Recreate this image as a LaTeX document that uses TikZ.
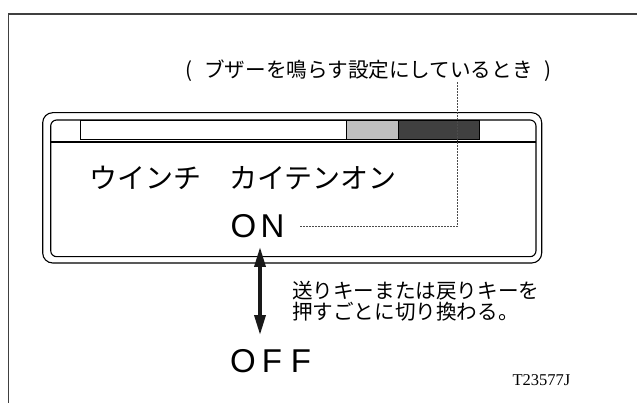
\documentclass[tikz,border=0pt]{standalone}
\usepackage{fontspec}
\setmainfont{Noto Sans CJK JP}
\newfontfamily\codefont{Liberation Serif}
\newfontfamily\latinfont{Liberation Sans}
\usetikzlibrary{arrows.meta}
\newcommand{\pitchbox}[1]{\makebox[29pt][c]{#1}}
\tikzset{
  frameline/.style={draw=black!75, line width=1.5pt},
  boxline/.style={draw=black, line width=1.1pt},
  leader/.style={draw=black!70, line width=0.9pt, dash pattern=on 1.5pt off 1.5pt},
  dblarrow/.style={draw=black!90, line width=3.5pt, {Triangle[length=20pt,width=11pt]}-{Triangle[length=20pt,width=11pt]}},
  lbl/.style={inner sep=0pt, outer sep=0pt},
  barcell/.style={draw=black, line width=0.9pt},
  bigword/.style={lbl, font=\latinfont\fontsize{33}{33}\selectfont, anchor=base west},
}
\begin{document}
\begin{tikzpicture}[x=1pt,y=-1pt]
\useasboundingbox (0,0) rectangle (637,403);
% outer frame
\draw[frameline] (8.3,403) -- (8.3,14) -- (637,14);
% display
\draw[boxline, rounded corners=10pt] (42.7,112.7) rectangle (541.7,263);
\draw[boxline, rounded corners=6pt] (50.7,120) rectangle (536,256.7);
\draw[line width=2pt] (50.7,141.7) -- (536,141.7);
\filldraw[barcell, fill=white] (80,120) rectangle (346,139);
\filldraw[barcell, fill=black!25] (346,120) rectangle (398,139);
\filldraw[barcell, fill=black!75] (398,120) rectangle (479,139);
% texts
\node[lbl, font=\fontsize{20.6}{20.6}\selectfont, anchor=base] (cap) at (368.5,78) {(\kern12pt ブザーを鳴らす設定にしているとき\kern12pt)};
\node[lbl, font=\fontsize{28}{28}\selectfont, anchor=base west] (title) at (89,188.5) {ウインチ　カイテンオン};
\node[bigword] (on) at (229,238) {\pitchbox{O}\pitchbox{N}};
\node[bigword] (off) at (228.5,372) {\pitchbox{O}\pitchbox{F}\pitchbox{F}};
\node[lbl, font=\fontsize{20.6}{21}\selectfont, align=left, anchor=north west] (note) at (292,281.5) {送りキーまたは戻りキーを\\押すごとに切り換わる。};
\node[lbl, font=\codefont\fontsize{16.5}{16.5}\selectfont, anchor=base west] (code) at (512.5,385) {T23577J};
% leader
\coordinate (ldtop) at (457,82);
\draw[leader] ([xshift=13pt]on.east) -| (ldtop);
% arrow
\coordinate (atop) at (260,247);
\coordinate (abot) at (260,335);
\draw[dblarrow] (atop) -- (abot);
\end{tikzpicture}
\end{document}
